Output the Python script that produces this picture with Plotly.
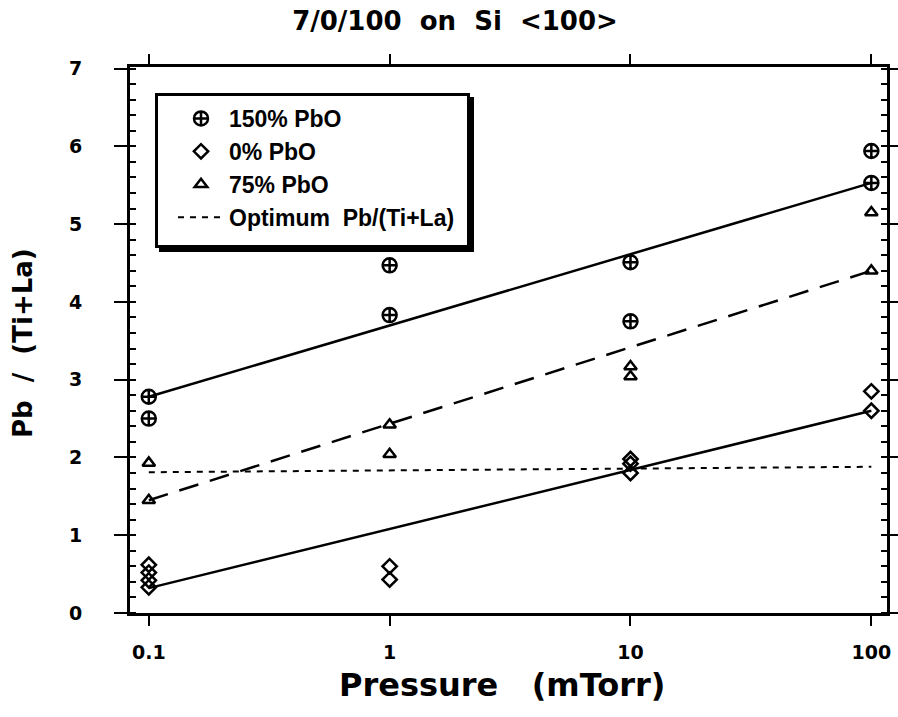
import plotly.graph_objects as go

# ---- data ----
p150_x = [0.1, 0.1, 1, 1, 10, 10, 100, 100]
p150_y = [2.78, 2.50, 4.47, 3.83, 4.51, 3.75, 5.94, 5.53]

p0_x = [0.1, 0.1, 0.1, 0.1, 1, 1, 10, 10, 10, 100, 100]
p0_y = [0.62, 0.52, 0.42, 0.33, 0.60, 0.43, 1.98, 1.92, 1.80, 2.85, 2.60]

p75_x = [0.1, 0.1, 1, 1, 10, 10, 100, 100]
p75_y = [1.93, 1.45, 2.42, 2.04, 3.17, 3.04, 5.15, 4.40]

fit_x = [0.1, 100]
fit150_y = [2.78, 5.53]
fit0_y = [0.32, 2.60]
fit75_y = [1.45, 4.40]
opt_y = [1.81, 1.88]

x_ticks = [0.1, 1, 10, 100]
x_ticklabels = ["0.1", "1", "10", "100"]
y_ticks = [0, 1, 2, 3, 4, 5, 6, 7]

FONT = "DejaVu Sans, Arial, sans-serif"
LFONT = "Liberation Sans, Arial, sans-serif"

W, H = 898, 717
ML, MR, MT, MB = 130, 11, 67, 104
PW, PH = W - ML - MR, H - MT - MB


def px_x(p):
    return (p - ML) / PW


def px_y(p):
    return (H - MB - p) / PH


fig = go.Figure()

fig.add_trace(go.Scatter(x=p150_x, y=p150_y, mode="markers", name="<b>150% PbO</b>", legendgroup="a",
                         marker=dict(symbol="circle-cross-open", size=14, color="black",
                                     line=dict(width=2.5, color="black"))))
fig.add_trace(go.Scatter(x=p0_x, y=p0_y, mode="markers", name="<b>0% PbO</b>", legendgroup="b",
                         marker=dict(symbol="diamond-open", size=11, color="black",
                                     line=dict(width=2.5, color="black"))))
fig.add_trace(go.Scatter(x=p75_x, y=p75_y, mode="markers", name="<b>75% PbO</b>", legendgroup="c",
                         marker=dict(symbol="triangle-up-open", size=11, color="black",
                                     line=dict(width=2.5, color="black"))))
fig.add_trace(go.Scatter(x=fit_x, y=opt_y, mode="lines", name="<b>Optimum  Pb/(Ti+La)</b>", legendgroup="d",
                         line=dict(color="black", width=2, dash="6px,6px")))
fig.add_trace(go.Scatter(x=fit_x, y=fit150_y, mode="lines", showlegend=False,
                         line=dict(color="black", width=2.5)))
fig.add_trace(go.Scatter(x=fit_x, y=fit0_y, mode="lines", showlegend=False,
                         line=dict(color="black", width=2.5)))
fig.add_trace(go.Scatter(x=fit_x, y=fit75_y, mode="lines", showlegend=False,
                         line=dict(color="black", width=2.5, dash="20px,12px")))

# legend box with drop shadow
fig.add_shape(type="rect", xref="paper", yref="paper",
              x0=px_x(159), x1=px_x(474), y0=px_y(252), y1=px_y(97),
              fillcolor="black", line=dict(width=0), layer="above")
fig.add_shape(type="rect", xref="paper", yref="paper",
              x0=px_x(156.5), x1=px_x(468.5), y0=px_y(246.5), y1=px_y(94.5),
              fillcolor="white", line=dict(width=3, color="black"), layer="above")

fig.add_annotation(text="<b>Pb  /  (Ti+La)</b>", textangle=-90, xref="paper", yref="paper",
                   x=px_x(23), y=px_y(343), xanchor="center", yanchor="middle",
                   showarrow=False, font=dict(size=26, family=FONT, color="black"))

fig.update_layout(
    width=W, height=H,
    margin=dict(l=ML, r=MR, t=MT, b=MB, autoexpand=False),
    paper_bgcolor="white", plot_bgcolor="white",
    font=dict(family=FONT, color="black", size=17),
    title=dict(text="<b>7/0/100  on  Si  &lt;100&gt;</b>", x=455 / W, xanchor="center",
               y=1 - 21 / H, yanchor="middle", font=dict(size=26, family=FONT)),
    showlegend=True,
    legend=dict(x=px_x(173), y=px_y(97), xanchor="left", yanchor="top",
                bgcolor="rgba(0,0,0,0)", borderwidth=0,
                font=dict(size=23, family=LFONT),
                tracegroupgap=0, itemwidth=46),
)

fig.update_xaxes(type="log", range=[-1.078, 2.065], automargin=False,
                 tickvals=x_ticks, ticktext=["<b>%s</b>" % t for t in x_ticklabels],
                 ticks="outside", ticklen=10, tickwidth=2, tickcolor="black",
                 showline=True, linecolor="black", linewidth=3, mirror="ticks",
                 showgrid=False, zeroline=False, ticklabelstandoff=10,
                 tickfont=dict(size=19, family=FONT))
fig.update_yaxes(range=[0, 7.02], tickvals=y_ticks, automargin=False,
                 ticktext=["<b>%d</b>" % v for v in y_ticks],
                 ticks="outside", ticklen=13, tickwidth=2, tickcolor="black",
                 minor=dict(dtick=0.2, ticks="inside", ticklen=6, tickwidth=2, tickcolor="black"),
                 showline=True, linecolor="black", linewidth=3, mirror="ticks",
                 showgrid=False, zeroline=False, ticklabelstandoff=28,
                 tickfont=dict(size=19, family=FONT))

fig.add_annotation(text="<b>Pressure   (mTorr)</b>", xref="paper", yref="paper",
                   x=px_x(502), y=px_y(685), xanchor="center", yanchor="middle",
                   showarrow=False, font=dict(size=32, family=FONT, color="black"))

fig.write_html("out.html")
